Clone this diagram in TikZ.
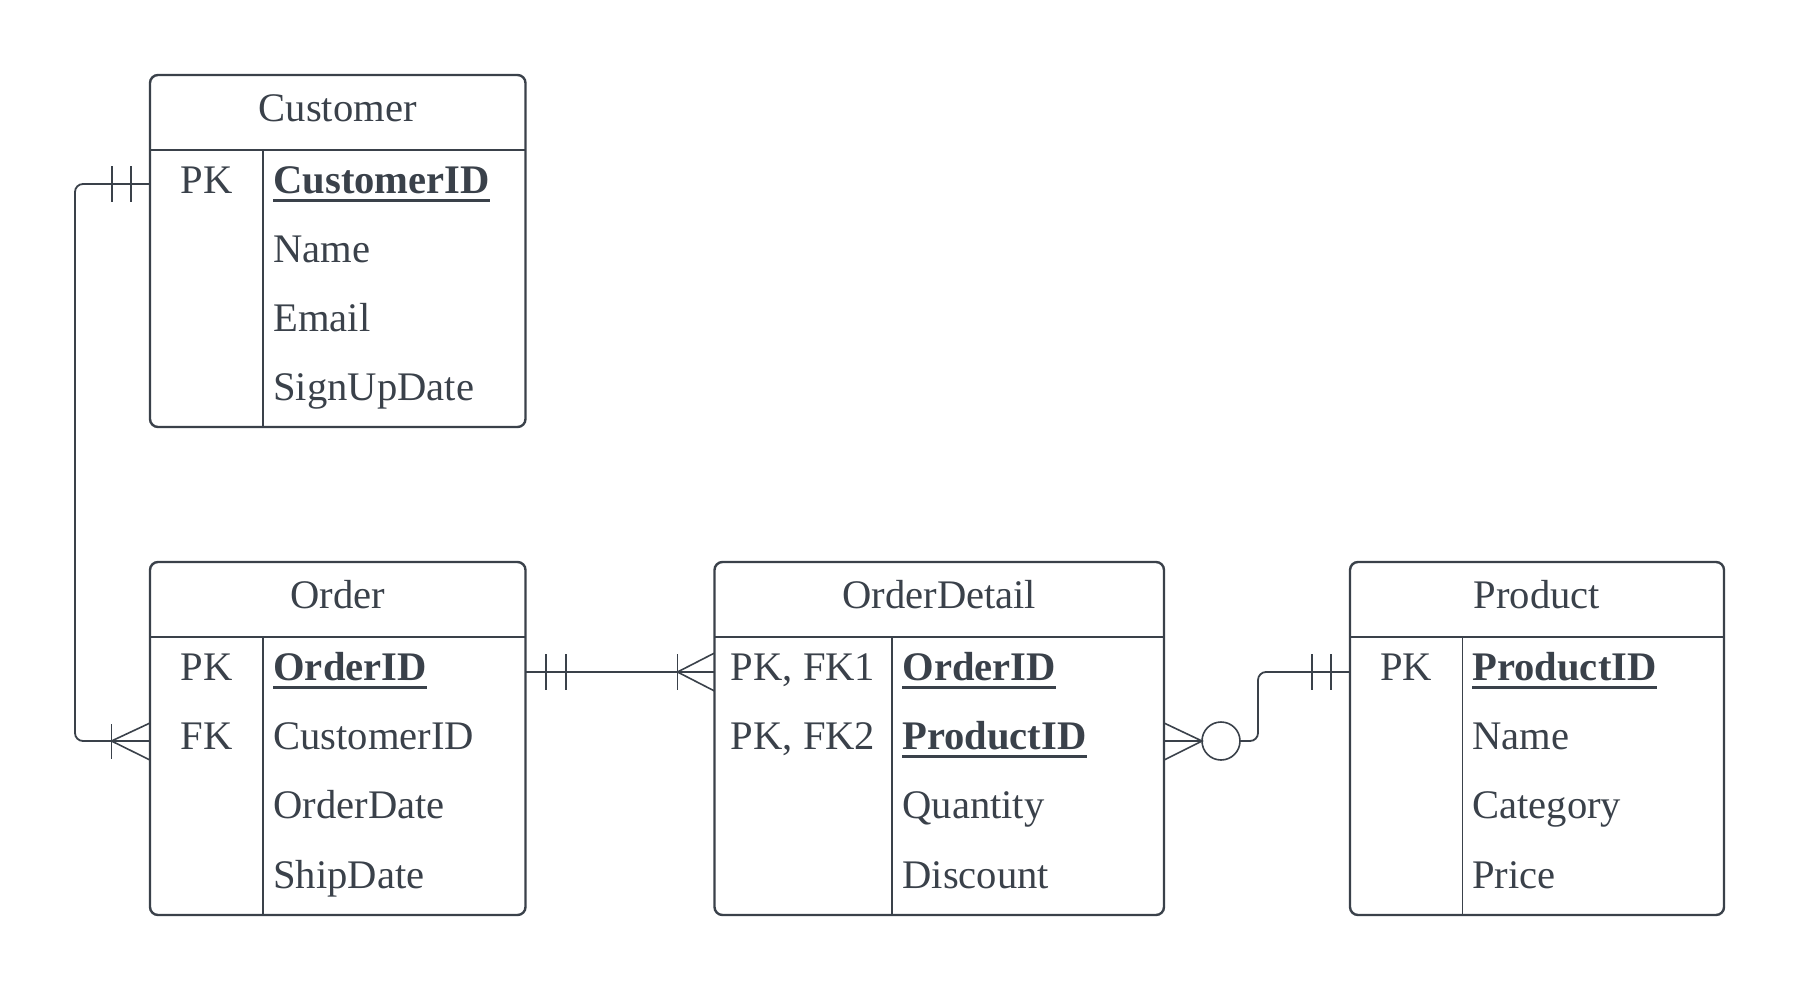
\documentclass[tikz,border=0pt]{standalone}
\usepackage{fontspec}
\setmainfont{Liberation Serif}
\definecolor{ink}{RGB}{58,65,74}
\newcommand{\keyul}[1]{\setbox0\hbox{\bfseries #1}\rlap{\rule[-4.6pt]{\wd0}{1.65pt}}\box0}
\begin{document}
\begin{tikzpicture}[x=0.5pt,y=-0.5pt,
  every node/.style={text=ink,font=\fontsize{20.3}{24}\selectfont,inner sep=0pt},
  entitybox/.style={draw=ink,line width=1.2pt,rounded corners=4pt,anchor=north west,outer sep=0pt,minimum height=176.5pt},
  divline/.style={draw=ink,line width=1pt},
  colline/.style={draw=ink,line width=0.7pt},
  conn/.style={draw=ink,line width=0.9pt,rounded corners=4pt},
  crowmark/.style={draw=ink,line width=0.8pt},
  hdr/.style={anchor=base},
  keytxt/.style={anchor=base},
  fld/.style={anchor=base west}]
\useasboundingbox (0,0) rectangle (1802,990);

% ---------- Customer ----------
\node[entitybox,minimum width=187.75pt,minimum height=176pt] (cust) at (150,75) {};
\draw[divline] (150,150) -- (525.5,150);
\draw[colline] (263,150) -- (263,427);
\node[hdr] (custh) at (337.75,121) {Customer};
\node[keytxt] (custk1) at (206.5,193) {PK};
\node[fld] (custf1) at (273,193) {\keyul{CustomerID}};
\node[fld] (custf2) at (273,262) {Name};
\node[fld] (custf3) at (273,331) {Email};
\node[fld] (custf4) at (273,400) {SignUpDate};

% ---------- Order ----------
\node[entitybox,minimum width=187.75pt] (ord) at (150,562) {};
\draw[divline] (150,637) -- (525.5,637);
\draw[colline] (263,637) -- (263,915);
\node[hdr] (ordh) at (337.75,608) {Order};
\node[keytxt] (ordk1) at (206.5,680) {PK};
\node[keytxt] (ordk2) at (206.5,749) {FK};
\node[fld] (ordf1) at (273,680) {\keyul{OrderID}};
\node[fld] (ordf2) at (273,749) {CustomerID};
\node[fld] (ordf3) at (273,818) {OrderDate};
\node[fld] (ordf4) at (273,888) {ShipDate};

% ---------- OrderDetail ----------
\node[entitybox,minimum width=224.75pt] (od) at (714.5,562) {};
\draw[divline] (714.5,637) -- (1164,637);
\draw[colline] (892,637) -- (892,915);
\node[hdr] (odh) at (939.25,608) {OrderDetail};
\node[keytxt] (odk1) at (803,680) {PK, FK1};
\node[keytxt] (odk2) at (803,749) {PK, FK2};
\node[fld] (odf1) at (902,680) {\keyul{OrderID}};
\node[fld] (odf2) at (902,749) {\keyul{ProductID}};
\node[fld] (odf3) at (902,818) {Quantity};
\node[fld] (odf4) at (902,888) {Discount};

% ---------- Product ----------
\node[entitybox,minimum width=187pt] (prod) at (1350,562) {};
\draw[divline] (1350,637) -- (1724,637);
\draw[colline] (1462.5,637) -- (1462.5,915);
\node[hdr] (prodh) at (1537,608) {Product};
\node[keytxt] (prodk1) at (1406,680) {PK};
\node[fld] (prodf1) at (1472,680) {\keyul{ProductID}};
\node[fld] (prodf2) at (1472,749) {Name};
\node[fld] (prodf3) at (1472,818) {Category};
\node[fld] (prodf4) at (1472,888) {Price};

% ---------- connection points ----------
\coordinate (custw1) at (150,184);
\coordinate (ordw2) at (150,741);
\coordinate (orde1) at (525.5,672);
\coordinate (odw1) at (714.5,672);
\coordinate (ode2) at (1164,741);
\coordinate (prodw1) at (1350,672);
\coordinate (b1a) at (75,184);
\coordinate (b1b) at (75,741);
\coordinate (oc) at (1221,741);
\coordinate (b3a) at (1258,741);
\coordinate (b3b) at (1258,672);

% Customer -- Order
\draw[conn] (custw1) -- (b1a) -- (b1b) -- (ordw2);
\draw[crowmark] (112,166) -- (112,202);
\draw[crowmark] (131,166) -- (131,202);
\draw[crowmark] (150,723) -- (111.5,741) -- (150,760);
\draw[crowmark] (111.5,724) -- (111.5,759);

% Order -- OrderDetail
\draw[conn] (orde1) -- (odw1);
\draw[crowmark] (546,654) -- (546,690);
\draw[crowmark] (566,654) -- (566,690);
\draw[crowmark] (714.5,653) -- (677.5,672) -- (714.5,691);
\draw[crowmark] (677.5,654) -- (677.5,690);

% OrderDetail -- Product
\draw[crowmark] (1164,723) -- (1202,741) -- (1164,760);
\draw[conn] (ode2) -- (1202,741);
\draw[crowmark] (oc) circle[radius=9.5pt];
\draw[conn] (1240,741) -- (b3a) -- (b3b) -- (prodw1);
\draw[crowmark] (1312,654) -- (1312,690);
\draw[crowmark] (1331,654) -- (1331,690);
\end{tikzpicture}
\end{document}
